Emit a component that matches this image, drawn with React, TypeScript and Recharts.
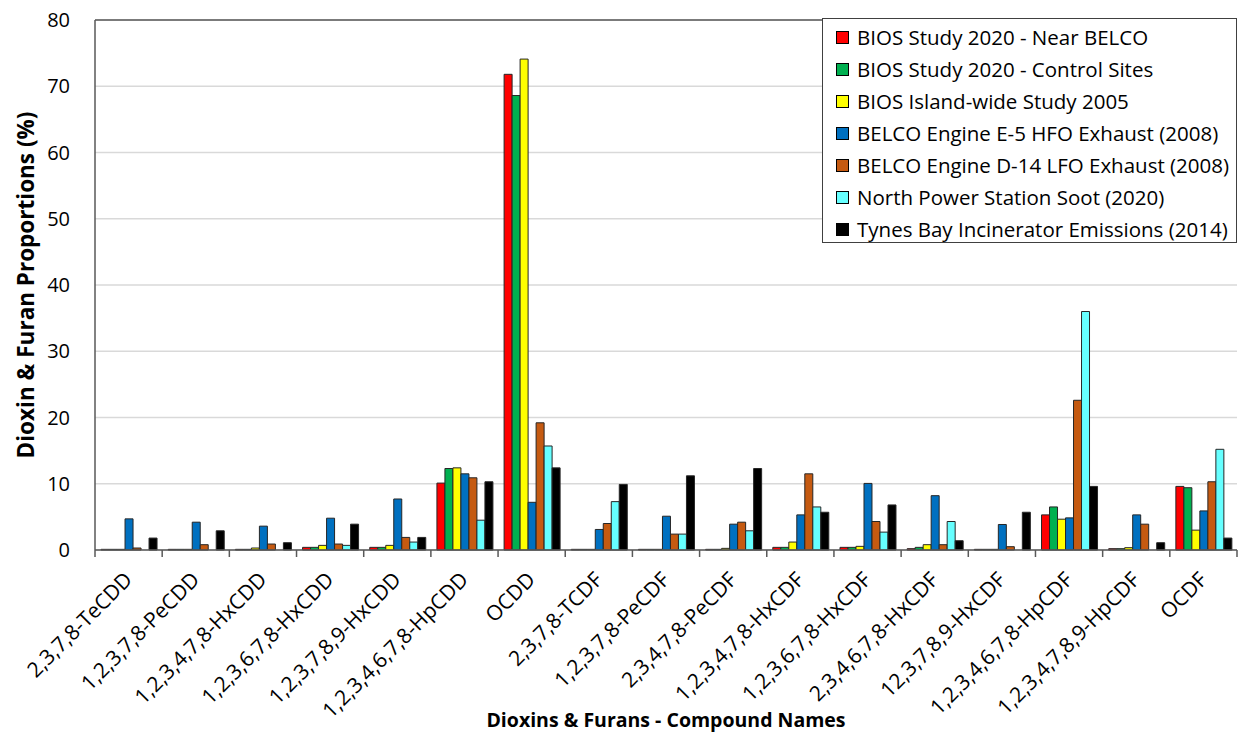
import { BarChart, Bar, XAxis, YAxis, CartesianGrid, Legend, ReferenceLine } from "recharts";

const compounds = [
  "2,3,7,8-TeCDD",
  "1,2,3,7,8-PeCDD",
  "1,2,3,4,7,8-HxCDD",
  "1,2,3,6,7,8-HxCDD",
  "1,2,3,7,8,9-HxCDD",
  "1,2,3,4,6,7,8-HpCDD",
  "OCDD",
  "2,3,7,8-TCDF",
  "1,2,3,7,8-PeCDF",
  "2,3,4,7,8-PeCDF",
  "1,2,3,4,7,8-HxCDF",
  "1,2,3,6,7,8-HxCDF",
  "2,3,4,6,7,8-HxCDF",
  "12,3,7,8,9-HxCDF",
  "1,2,3,4,6,7,8-HpCDF",
  "1,2,3,4,7,8,9-HpCDF",
  "OCDF",
];

const nearBelco = [0.1, 0.1, 0.1, 0.4, 0.4, 10.1, 71.8, 0.1, 0.1, 0.1, 0.4, 0.4, 0.2, 0.1, 5.3, 0.2, 9.6];
const controlSites = [0.1, 0.1, 0.1, 0.4, 0.4, 12.3, 68.6, 0.1, 0.1, 0.1, 0.4, 0.4, 0.4, 0.1, 6.5, 0.2, 9.4];
const islandWide2005 = [0.1, 0.1, 0.3, 0.7, 0.7, 12.4, 74.1, 0.1, 0.1, 0.25, 1.2, 0.55, 0.8, 0.1, 4.65, 0.35, 3.0];
const engineE5 = [4.7, 4.2, 3.6, 4.8, 7.7, 11.5, 7.2, 3.1, 5.1, 3.9, 5.3, 10.05, 8.2, 3.85, 4.85, 5.3, 5.9];
const engineD14 = [0.3, 0.8, 0.9, 0.9, 1.9, 10.9, 19.2, 4.0, 2.4, 4.2, 11.5, 4.3, 0.8, 0.5, 22.6, 3.9, 10.3];
const northSoot = [0, 0, 0, 0.7, 1.2, 4.5, 15.7, 7.3, 2.4, 2.9, 6.5, 2.7, 4.3, 0, 36.0, 0, 15.2];
const tynesBay = [1.8, 2.9, 1.1, 3.9, 1.9, 10.3, 12.4, 9.9, 11.2, 12.3, 5.7, 6.8, 1.4, 5.7, 9.6, 1.1, 1.8];

const yTicks = [0, 10, 20, 30, 40, 50, 60, 70, 80];

const series = [
  { key: "near", name: "BIOS Study 2020 - Near BELCO", color: "#FF0000", values: nearBelco },
  { key: "control", name: "BIOS Study 2020 - Control Sites", color: "#00B050", values: controlSites },
  { key: "island", name: "BIOS Island-wide Study 2005", color: "#FFFF00", values: islandWide2005 },
  { key: "e5", name: "BELCO Engine E-5 HFO Exhaust (2008)", color: "#0070C0", values: engineE5 },
  { key: "d14", name: "BELCO Engine D-14 LFO Exhaust (2008)", color: "#C55A11", values: engineD14 },
  { key: "soot", name: "North Power Station Soot (2020)", color: "#66FFFF", values: northSoot },
  { key: "tynes", name: "Tynes Bay Incinerator Emissions (2014)", color: "#000000", values: tynesBay },
];

const data = compounds.map((name, i) => {
  const row: Record<string, string | number> = { name };
  series.forEach((s) => {
    row[s.key] = s.values[i];
  });
  return row;
});

const FONT = "'Open Sans', 'Noto Sans', sans-serif";
const CHART_W = 1240;
const CHART_H = 732;
const MARGIN = { top: 20, right: 3, left: 0, bottom: 0 };
const Y_AXIS_W = 95;
const BAND = (CHART_W - MARGIN.left - MARGIN.right - Y_AXIS_W) / compounds.length;

const CompoundTick = (props: any) => {
  const { x, y, payload, index } = props;
  const tx = x + 5;
  const ty = y + 31;
  const left = x - BAND / 2;
  const right = x + BAND / 2;
  return (
    <g>
      <line x1={left} x2={left} y1={y} y2={y + 7} stroke="#595959" strokeWidth={1.5} />
      {index === compounds.length - 1 && (
        <line x1={right} x2={right} y1={y} y2={y + 7} stroke="#595959" strokeWidth={1.5} />
      )}
      <text
        x={tx}
        y={ty}
        transform={`rotate(-45 ${tx} ${ty})`}
        textAnchor="end"
        fontSize={21}
        fontFamily={FONT}
        fill="#000"
      >
        {payload.value}
      </text>
    </g>
  );
};

const LegendBox = () => (
  <div
    style={{
      width: 415,
      height: 225,
      border: "1px solid #404040",
      background: "#fff",
      boxSizing: "border-box",
      paddingTop: 2,
      paddingLeft: 13,
      fontFamily: FONT,
      fontSize: 20.5,
      color: "#000",
    }}
  >
    {series.map((s) => (
      <div key={s.key} style={{ display: "flex", alignItems: "center", height: 32 }}>
        <span
          style={{
            width: 11,
            height: 11,
            background: s.color,
            border: "1px solid #000",
            marginRight: 8,
            flexShrink: 0,
          }}
        />
        <span style={{ whiteSpace: "nowrap" }}>{s.name}</span>
      </div>
    ))}
  </div>
);

export default function App() {
  return (
    <div style={{ width: CHART_W, height: CHART_H, background: "#fff" }}>
      <style>{"body{margin:0}"}</style>
      <BarChart
        width={CHART_W}
        height={CHART_H}
        data={data}
        margin={MARGIN}
        barCategoryGap="9%"
        barGap={0}
      >
        <CartesianGrid vertical={false} stroke="#d9d9d9" strokeWidth={1.5} />
        <XAxis
          dataKey="name"
          type="category"
          interval={0}
          height={182}
          tickSize={0}
          tickMargin={0}
          axisLine={{ stroke: "#595959", strokeWidth: 1.5 }}
          tick={<CompoundTick />}
          label={{
            content: (p: any) => {
              const vb = p.viewBox;
              return (
                <text
                  x={vb.x + vb.width / 2}
                  y={vb.y + vb.height - 5}
                  textAnchor="middle"
                  fontSize={19.5}
                  fontWeight="bold"
                  fontFamily={FONT}
                  fill="#000"
                >
                  Dioxins &amp; Furans - Compound Names
                </text>
              );
            },
          }}
        />
        <YAxis
          width={Y_AXIS_W}
          domain={[0, 80]}
          ticks={yTicks}
          interval={0}
          tickLine={false}
          tickMargin={19}
          axisLine={{ stroke: "#595959", strokeWidth: 1.5 }}
          tick={{ fontSize: 20, fill: "#000", fontFamily: FONT }}
          label={{
            content: (p: any) => {
              const vb = p.viewBox;
              const cx = vb.x + 25;
              const cy = vb.y + vb.height / 2;
              return (
                <text
                  x={cx}
                  y={cy}
                  transform={`rotate(-90 ${cx} ${cy})`}
                  textAnchor="middle"
                  dominantBaseline="central"
                  fontSize={22.5}
                  fontWeight="bold"
                  fontFamily={FONT}
                  fill="#000"
                >
                  Dioxin &amp; Furan Proportions (%)
                </text>
              );
            },
          }}
        />
        <ReferenceLine y={80} stroke="#595959" strokeWidth={1.5} />
        <Legend
          layout="horizontal"
          verticalAlign="middle"
          align="center"
          content={<LegendBox />}
          wrapperStyle={{ position: "absolute", top: 18, left: 822, width: 415, height: 225 }}
        />
        {series.map((s) => (
          <Bar
            key={s.key}
            dataKey={s.key}
            name={s.name}
            fill={s.color}
            stroke="#262626"
            strokeWidth={1}
            isAnimationActive={false}
          />
        ))}
      </BarChart>
    </div>
  );
}
